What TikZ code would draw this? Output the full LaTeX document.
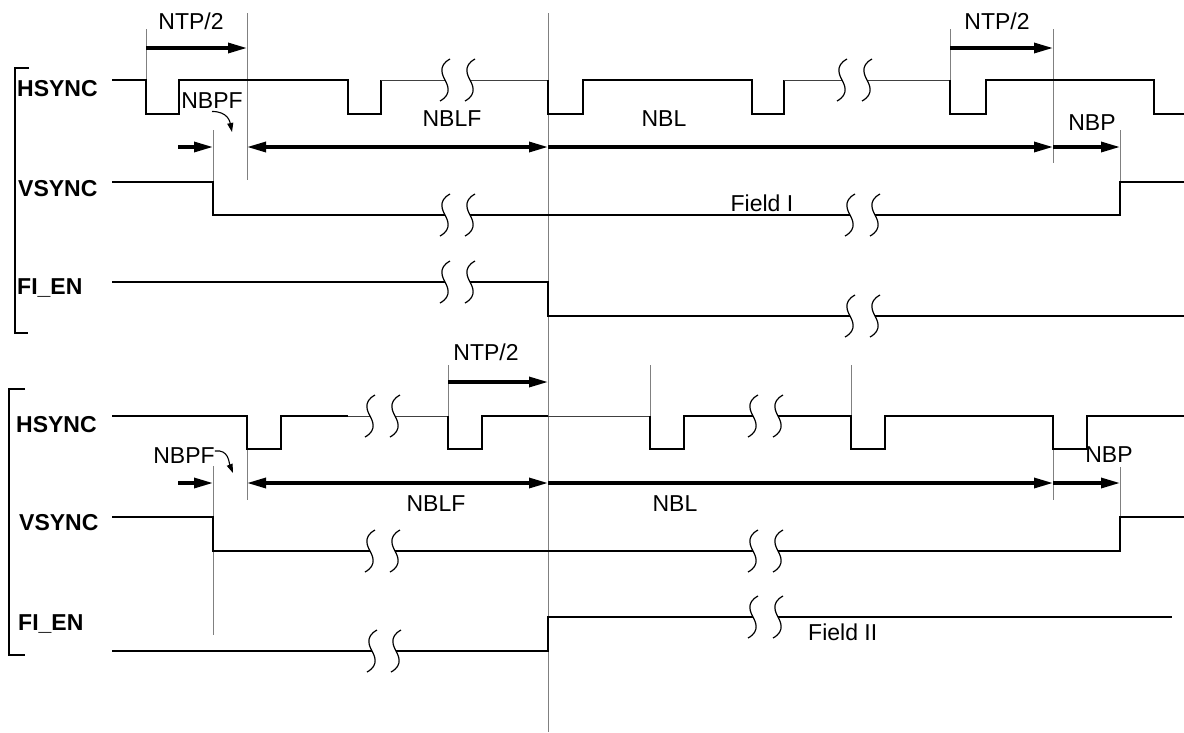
\documentclass[tikz,border=0pt]{standalone}
\usepackage{fontspec}
\setmainfont{Liberation Sans}
\usetikzlibrary{arrows.meta}
\tikzset{
  wave/.style={line width=2.2pt},
  faint/.style={line width=1pt, black!75},
  guide/.style={line width=0.9pt, gray},
  span/.style={line width=3.2pt, -{Triangle[length=19pt,width=10pt]}},
  spanboth/.style={line width=3.2pt, {Triangle[length=19pt,width=10pt]}-{Triangle[length=19pt,width=10pt]}},
  pointer/.style={line width=1.1pt, -{Triangle[length=9pt,width=6pt]}},
  sig/.style={font=\bfseries\fontsize{23}{27}\selectfont, anchor=west, inner sep=0pt, text height=16.5pt, text depth=0pt},
  lbl/.style={font=\fontsize{23}{27}\selectfont, inner sep=0pt, text height=16.5pt, text depth=0pt},
  brkmark/.pic={\draw[line width=1.2pt] (5,-21) .. controls (-8,-14) and (-2,-4) .. (0,0) .. controls (2,4) and (8,14) .. (-5,21);}
}
\begin{document}
\begin{tikzpicture}[x=1pt,y=-1pt]
  \useasboundingbox (0,0) rectangle (1184,732);
  % brackets
  \draw[wave] (29,68) -- (15,68) -- (15,333) -- (28,333);
  \draw[wave] (25,389) -- (9,389) -- (9,655) -- (25,655);
  % signal names
  \node[sig] (hsyncA) at (17,88) {HSYNC};
  \node[sig] (vsyncA) at (18,188) {VSYNC};
  \node[sig] (fienA) at (17,286) {FI\_EN};
  \node[sig] (hsyncB) at (16,424) {HSYNC};
  \node[sig] (vsyncB) at (19,522) {VSYNC};
  \node[sig] (fienB) at (18,622) {FI\_EN};
  % guide lines
  \draw[guide] (548,13) -- (548,732);
  \foreach \x/\a/\b in {146/29/80, 247/13/180, 213/130/182, 950/29/80, 1053/29/163, 1120/130/182,
                        448/365/416, 650/365/416, 851/365/416, 247/450/500, 213/466/635, 1053/449/500, 1120/467/517} {
    \draw[guide] (\x,\a) -- (\x,\b);
  }
  % field I
  \draw[wave] (112,80) -- (146,80) -- (146,114) -- (179,114) -- (179,80) -- (348,80) -- (348,114) -- (381,114) -- (381,80);
  \draw[faint] (381,80) -- (445,80) (470,80) -- (548,80);
  \draw[wave] (548,80) -- (548,114) -- (583,114) -- (583,80) -- (752,80) -- (752,114) -- (784,114) -- (784,80);
  \draw[faint] (784,80) -- (842,80) (867,80) -- (950,80);
  \draw[wave] (950,80) -- (950,114) -- (986,114) -- (986,80) -- (1154,80) -- (1154,114) -- (1184,114);
  \draw[wave] (112,182) -- (213,182) -- (213,215) -- (445,215) (470,215) -- (850,215) (875,215) -- (1120,215) -- (1120,182) -- (1184,182);
  \draw[wave] (112,282) -- (445,282) (470,282) -- (548,282) -- (548,316) -- (850,316) (875,316) -- (1184,316);
  % field II
  \draw[wave] (112,416) -- (247,416) -- (247,449) -- (281,449) -- (281,416) -- (348,416);
  \draw[faint] (348,416) -- (370,416) (395,416) -- (448,416);
  \draw[wave] (448,416) -- (448,449) -- (482,449) -- (482,416) -- (548,416);
  \draw[faint] (548,416) -- (650,416);
  \draw[wave] (650,416) -- (650,449) -- (684,449) -- (684,416) -- (753,416) (778,416) -- (851,416) -- (851,449) -- (885,449) -- (885,416) -- (1053,416) -- (1053,449) -- (1087,449) -- (1087,416) -- (1184,416);
  \draw[wave] (112,517) -- (213,517) -- (213,551) -- (370,551) (395,551) -- (753,551) (778,551) -- (1120,551) -- (1120,517) -- (1184,517);
  \draw[wave] (112,651) -- (372,651) (396,651) -- (548,651) -- (548,617) -- (753,617) (778,617) -- (1172,617);
  % breaks
  \foreach \x/\y in {445/80, 470/80, 842/80, 867/80, 445/215, 470/215, 850/215, 875/215, 445/282, 470/282, 850/316, 875/316,
                     370/416, 395/416, 753/416, 778/416, 370/551, 395/551, 753/551, 778/551, 372/651, 396/651, 753/617, 778/617} {
    \pic at (\x,\y) {brkmark};
  }
  % intervals
  \draw[span] (146,48) -- (247,48);
  \draw[span] (950,48) -- (1053,48);
  \draw[span] (178,147) -- (213,147);
  \draw[spanboth] (247,147) -- (548,147);
  \draw[span] (548,147) -- (1053,147);
  \draw[span] (1053,147) -- (1120,147);
  \draw[span] (448,382) -- (548,382);
  \draw[span] (178,483) -- (213,483);
  \draw[spanboth] (247,483) -- (548,483);
  \draw[span] (548,483) -- (1053,483);
  \draw[span] (1053,483) -- (1120,483);
  % interval labels
  \node[lbl] (ntpA) at (191,21) {NTP/2};
  \node[lbl] (ntpB) at (997,21) {NTP/2};
  \node[lbl] (nbpfA) at (212,100) {NBPF};
  \node[lbl] (nblfA) at (452,118) {NBLF};
  \node[lbl] (nblA) at (664,118) {NBL};
  \node[lbl] (nbpA) at (1092,122) {NBP};
  \node[lbl] (fieldA) at (762,203) {Field I};
  \node[lbl] (ntpC) at (486,352) {NTP/2};
  \node[lbl] (nbpfB) at (184,455) {NBPF};
  \node[lbl] (nblfB) at (436,503) {NBLF};
  \node[lbl] (nblB) at (675,503) {NBL};
  \node[lbl] (nbpB) at (1109,454) {NBP};
  \node[lbl, anchor=west] (fieldB) at (808,632) {Field II};
  \draw[pointer] ([yshift=-3pt]nbpfA.south) .. controls +(16,0) and +(-2,-10) .. (232,132);
  \draw[pointer] ([yshift=4pt]nbpfB.east) .. controls +(14,-2) and +(-4,-10) .. (233,473);
\end{tikzpicture}
\end{document}
